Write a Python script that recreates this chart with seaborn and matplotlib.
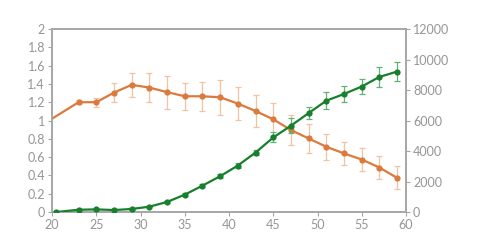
import matplotlib
matplotlib.use("Agg")
import matplotlib.pyplot as plt
import seaborn as sns
import pandas as pd

# Orange series (left axis)
orange_x = [20, 23, 25, 27, 29, 31, 33, 35, 37, 39, 41, 43, 45, 47, 49, 51, 53, 55, 57, 59]
orange_y = [1.02, 1.20, 1.20, 1.305, 1.39, 1.36, 1.31, 1.265, 1.265, 1.254, 1.185,
            1.104, 1.013, 0.896, 0.804, 0.713, 0.64, 0.574, 0.486, 0.373]
orange_err = [0.0, 0.02, 0.05, 0.10, 0.13, 0.16, 0.18, 0.15, 0.16, 0.19, 0.18,
              0.17, 0.18, 0.165, 0.155, 0.14, 0.13, 0.125, 0.13, 0.125]

# Green series (right axis)
green_x = [20.5, 23, 25, 27, 29, 31, 33, 35, 37, 39, 41, 43, 45, 47, 49, 51, 53, 55, 57, 59]
green_y = [0, 150, 175, 130, 200, 350, 660, 1140, 1730, 2350, 3050,
           3900, 4890, 5660, 6490, 7300, 7740, 8230, 8860, 9210]
green_err = [20, 40, 40, 40, 40, 50, 60, 80, 100, 130, 140,
             150, 330, 500, 420, 550, 550, 500, 630, 650]

left_ticks = [0, 0.2, 0.4, 0.6, 0.8, 1, 1.2, 1.4, 1.6, 1.8, 2]
left_labels = ["0", "0.2", "0.4", "0.6", "0.8", "1", "1.2", "1.4", "1.6", "1.8", "2"]
right_ticks = [0, 2000, 4000, 6000, 8000, 10000, 12000]
x_ticks = [20, 25, 30, 35, 40, 45, 50, 55, 60]

sns.set_style("white")
plt.rcParams["font.family"] = ["Lato", "DejaVu Sans"]

ORANGE = "#DB7A3C"
ORANGE_ERR = "#F2C3A2"
GREEN = "#18802C"
GREEN_ERR = "#62B274"
AXIS = "#A6A6A6"
TEXT = "#959595"

fig = plt.figure(figsize=(4.79, 2.48), dpi=100)
ax = fig.add_axes([0.1086, 0.145, 0.8476 - 0.1086, 0.883 - 0.145])
ax2 = ax.twinx()

df_o = pd.DataFrame({"x": orange_x, "y": orange_y})
df_g = pd.DataFrame({"x": green_x, "y": green_y})

ax.errorbar(orange_x[1:], orange_y[1:], yerr=orange_err[1:], fmt="none",
            ecolor=ORANGE_ERR, elinewidth=0.9, capsize=2.5, capthick=0.9, zorder=2)
sns.lineplot(data=df_o, x="x", y="y", ax=ax, color=ORANGE, linewidth=1.6,
             marker="o", markersize=4.5, markeredgewidth=0,
             markevery=list(range(1, len(orange_x))), zorder=3)

ax2.errorbar(green_x, green_y, yerr=green_err, fmt="none",
             ecolor=GREEN_ERR, elinewidth=0.9, capsize=2.5, capthick=0.9, zorder=2)
sns.lineplot(data=df_g, x="x", y="y", ax=ax2, color=GREEN, linewidth=1.6,
             marker="o", markersize=4.5, markeredgewidth=0, zorder=3)

ax.set_xlim(20, 60)
ax.set_ylim(0, 2)
ax2.set_ylim(0, 12000)
ax.set_xticks(x_ticks)
ax.set_yticks(left_ticks)
ax.set_yticklabels(left_labels)
ax2.set_yticks(right_ticks)
ax2.set_yticklabels([str(t) for t in right_ticks])

for a in (ax, ax2):
    a.set_xlabel("")
    a.set_ylabel("")
    for s in a.spines.values():
        s.set_color(AXIS)
        s.set_linewidth(1.2)
    a.tick_params(axis="both", colors=AXIS, labelcolor=TEXT, labelsize=9,
                  length=3, width=0.8, direction="out", pad=2)
ax.tick_params(axis="y", left=True, right=False)
ax.tick_params(axis="x", bottom=True)
ax2.tick_params(axis="y", right=True, left=False)
ax.grid(False)
ax2.grid(False)

fig.savefig("out.png", dpi=100)
